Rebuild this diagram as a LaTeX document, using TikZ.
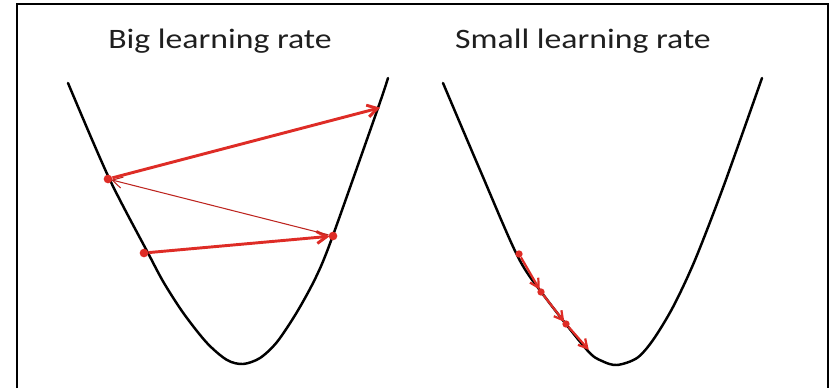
\documentclass[tikz,border=0pt]{standalone}
\usepackage{fontspec}
\usepackage{graphicx}
\setmainfont{Carlito}
\usetikzlibrary{arrows.meta}
\definecolor{stepRed}{HTML}{DE2C26}

\begin{document}
\begin{tikzpicture}[
    x=0.03cm, y=-0.03cm,
    loss/.style={line width=2.1pt, black, line cap=round},
    dot/.style={circle, fill=stepRed, inner sep=0pt, minimum size=2.6mm},
    jump/.style={stepRed, line width=2.5pt, -{Straight Barb[length=3mm, width=3.6mm]}, shorten >=-1pt},
    back/.style={stepRed!85!black, line width=0.9pt, -{Straight Barb[length=3mm, width=3.4mm]}, shorten >=-1pt},
    tiny_step/.style={stepRed, line width=1.9pt, -{Straight Barb[length=2.6mm, width=2.9mm]}, shorten >=-1pt},
    title/.style={font=\fontsize{24}{28}\selectfont, text=black!88, anchor=base, inner sep=0pt}
]
\useasboundingbox (0,0) rectangle (840,388);
\draw[line width=1.7pt] (17,388) -- (17,4) -- (828,4) -- (828,388);

% left panel
\node[title] (tbig) at (220,48) {\scalebox{1.2}[1]{Big learning rate}};
\draw[loss] plot[smooth, tension=0.5] coordinates {(68,83) (109,178) (148,253) (164,283) (184,314) (207,343) (227,360) (243,364) (260,358) (277,342) (297,312) (316,277) (332,238) (378,108) (388,78)};
\node[dot] (b1) at (144,253) {};
\node[dot] (b2) at (333,236) {};
\node[dot] (b3) at (108,179) {};
\coordinate (b4) at (379,108);
\draw[jump] (b1) -- (b2);
\draw[back] (b2) -- (b3);
\draw[jump] (b3) -- (b4);

% right panel
\node[title] (tsmall) at (583,48) {\scalebox{1.2}[1]{Small learning rate}};
\draw[loss] plot[smooth, tension=0.5] coordinates {(443,83) (480,170) (518,257) (545,297) (587,350) (602,361) (617,365) (637,358) (653,340) (673,307) (695,260) (724,185) (762,78)};
\node[dot, minimum size=2.2mm] (s1) at (519,254) {};
\node[dot, minimum size=2.2mm] (s2) at (541,292) {};
\node[dot, minimum size=2.2mm] (s3) at (566,324) {};
\coordinate (s4) at (588,349);
\draw[tiny_step] (s1) -- (s2);
\draw[tiny_step] (s2) -- (s3);
\draw[tiny_step] (s3) -- (s4);
\end{tikzpicture}
\end{document}
